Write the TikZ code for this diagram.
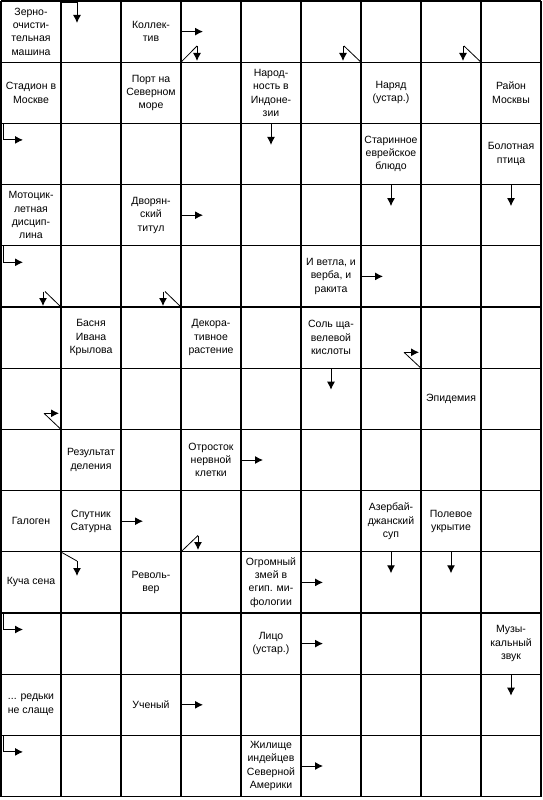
\documentclass[tikz,border=0pt]{standalone}
\usepackage{fontspec}
\setmainfont{Liberation Sans}
\usetikzlibrary{arrows.meta}
\newcommand\mkclue[3]{\node[clue] (q#1-#2) at ({31+60*#2},{31.6+61.2*#1}) {#3};}
\newcommand\rightptr[2]{\draw[ptr] ({60*#2+2},{31.6+61.2*#1}) -- ++(21,0);}
\newcommand\downptr[2]{\draw[ptr] ({31+60*#2},{1.5+61.2*#1}) -- ++(0,21);}
\newcommand\bentptr[1]{\draw[ptr] (3,{1.5+61.2*#1}) -- ++(0,16) -- ++(20,0);}
\begin{document}
\begin{tikzpicture}[x=1pt,y=-1pt,
  gridline/.style={line width=1.1pt,black},
  clue/.style={align=center,inner sep=0pt,font=\fontsize{10.5}{13.3}\selectfont},
  ptr/.style={line width=1pt,-{Latex[length=8pt,width=8pt]}},
  thin/.style={line width=0.8pt}]
\useasboundingbox (0,0) rectangle (543,800);
\fill[white] (0,0) rectangle (543,800);
% grid
\foreach \i in {0,...,9} \draw[gridline] ({1+60*\i},1) -- ({1+60*\i},796.6);
\foreach \j in {0,...,13} \draw[gridline] (1,{1+61.2*\j}) -- (541,{1+61.2*\j});
% clues
\mkclue{0}{0}{Зерно-\\очисти-\\тельная\\машина}
\mkclue{0}{2}{Коллек-\\тив}
\mkclue{1}{0}{Стадион в\\Москве}
\mkclue{1}{2}{Порт на\\Северном\\море}
\mkclue{1}{4}{Народ-\\ность в\\Индоне-\\зии}
\mkclue{1}{6}{Наряд\\(устар.)}
\mkclue{1}{8}{Район\\Москвы}
\mkclue{2}{6}{Старинное\\еврейское\\блюдо}
\mkclue{2}{8}{Болотная\\птица}
\mkclue{3}{0}{Мотоцик-\\летная\\дисцип-\\лина}
\mkclue{3}{2}{Дворян-\\ский\\титул}
\mkclue{4}{5}{И ветла, и\\верба, и\\ракита}
\mkclue{5}{1}{Басня\\Ивана\\Крылова}
\mkclue{5}{3}{Декора-\\тивное\\растение}
\mkclue{5}{5}{Соль ща-\\велевой\\кислоты}
\mkclue{6}{7}{Эпидемия}
\mkclue{7}{1}{Результат\\деления}
\mkclue{7}{3}{Отросток\\нервной\\клетки}
\mkclue{8}{0}{Галоген}
\mkclue{8}{1}{Спутник\\Сатурна}
\mkclue{8}{6}{Азербай-\\джанский\\суп}
\mkclue{8}{7}{Полевое\\укрытие}
\mkclue{9}{0}{Куча сена}
\mkclue{9}{2}{Револь-\\вер}
\mkclue{9}{4}{Огромный\\змей в\\егип. ми-\\фологии}
\mkclue{10}{4}{Лицо\\(устар.)}
\mkclue{10}{8}{Музы-\\кальный\\звук}
\mkclue{11}{0}{... редьки\\не слаще}
\mkclue{11}{2}{Ученый}
\mkclue{12}{4}{Жилище\\индейцев\\Северной\\Америки}
% straight pointers
\rightptr{0}{3}
\rightptr{3}{3}
\rightptr{4}{6}
\rightptr{7}{4}
\rightptr{8}{2}
\rightptr{9}{5}
\rightptr{10}{5}
\rightptr{11}{3}
\rightptr{12}{5}
\downptr{2}{4}
\downptr{3}{6}
\downptr{3}{8}
\downptr{6}{5}
\downptr{9}{6}
\downptr{9}{7}
\downptr{11}{8}
% bent pointers
\draw[ptr] (62,3) -- (77,3) -- (77,23);
\bentptr{2}
\bentptr{4}
\bentptr{10}
\bentptr{12}
% diagonal pointers
\draw[thin] (181,62.2) -- (197,46);
\draw[ptr] (197,46) -- (197,61);
\draw[thin] (361,62.2) -- (344,46);
\draw[ptr] (343,46) -- (343,61);
\draw[thin] (481,62.2) -- (464,46);
\draw[ptr] (463,46) -- (463,61);
\draw[thin] (61,307) -- (45,291.5);
\draw[ptr] (43,291.5) -- (43,306);
\draw[thin] (181,307) -- (165,291.5);
\draw[ptr] (163,291.5) -- (163,306);
\draw[thin] (421,368.2) -- (404,352.3);
\draw[ptr] (404,352.3) -- (419,352.3);
\draw[thin] (61,429.4) -- (44,413.3);
\draw[ptr] (44,413.3) -- (59,413.3);
\draw[thin] (181,551.8) -- (198,535.5);
\draw[ptr] (198,535.5) -- (198,550);
\draw[thin] (61,552) -- (77,561);
\draw[ptr] (77,561) -- (77,576);
\end{tikzpicture}
\end{document}
